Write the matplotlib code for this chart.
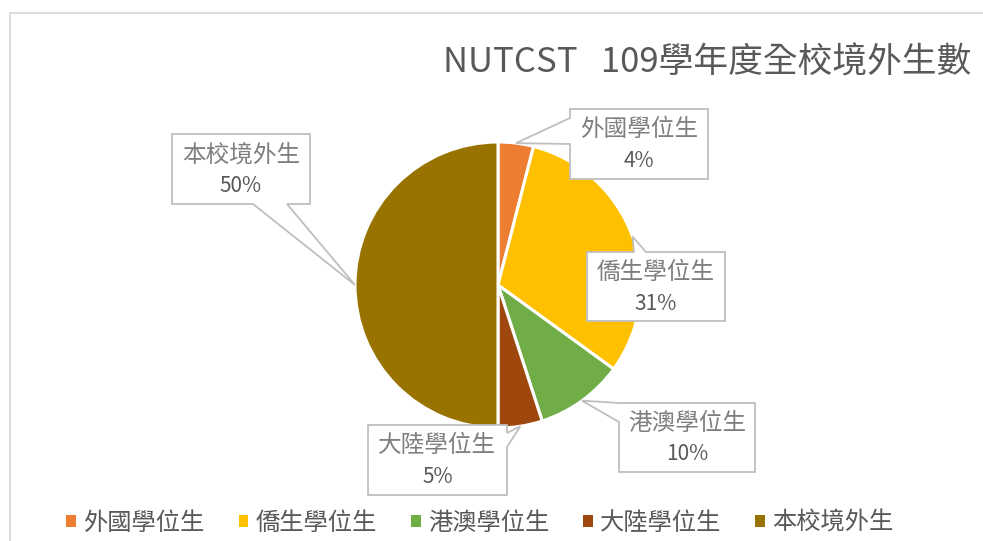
import numpy as np
import matplotlib.pyplot as plt
from matplotlib.patches import Polygon, Rectangle

plt.rcParams['font.family'] = ['Noto Sans CJK TC', 'DejaVu Sans']

# data
categories = ['外國學位生', '僑生學位生', '港澳學位生', '大陸學位生', '本校境外生']
shares = [4, 31, 10, 5, 50]
colors = ['#ED7D31', '#FFC000', '#70AD47', '#9E480E', '#997300']
title = 'NUTCST   109學年度全校境外生數'

W, H = 983, 541
fig = plt.figure(figsize=(W / 100, H / 100), dpi=100)
ax = fig.add_axes([0, 0, 1, 1])

# pie (pixel units, y measured from top -> converted)
cx, cy, R = 498, 285, 143
wedges, _ = ax.pie(shares, colors=colors, startangle=90, counterclock=False,
                   center=(cx, H - cy), radius=R,
                   wedgeprops=dict(edgecolor='white', linewidth=2.2))
ax.set_xlim(0, W)
ax.set_ylim(0, H)
ax.set_aspect('auto')
ax.axis('off')

# callout boxes: (x0, y0, x1, y1) from top-left, side of pointer, pointer base span
callouts = [
    ((570, 109, 708, 179), 'left', (118, 144)),
    ((587, 252, 725, 321), 'top', (634, 646)),
    ((619, 403, 755, 472), 'left', (403, 422)),
    ((368, 425, 507, 495), 'right', (433, 447)),
    ((172, 134, 310, 204), 'bottom', (253, 287)),
]

for w, name, pct, (box, side, base) in zip(wedges, categories, shares, callouts):
    th = np.deg2rad((w.theta1 + w.theta2) / 2)
    tx = cx + R * np.cos(th)
    ty = cy - R * np.sin(th)
    x0, y0, x1, y1 = box
    b0, b1 = base
    pts = [(x0, y0)]
    if side == 'top':
        pts += [(b0, y0), (tx, ty), (b1, y0)]
    pts += [(x1, y0)]
    if side == 'right':
        pts += [(x1, b0), (tx, ty), (x1, b1)]
    pts += [(x1, y1)]
    if side == 'bottom':
        pts += [(b1, y1), (tx, ty), (b0, y1)]
    pts += [(x0, y1)]
    if side == 'left':
        pts += [(x0, b1), (tx, ty), (x0, b0)]
    pts = [(px, H - py) for px, py in pts]
    ax.add_patch(Polygon(pts, closed=True, facecolor='white', edgecolor='#BFBFBF',
                         linewidth=1.3, zorder=5))
    mx = (x0 + x1) / 2
    my = (y0 + y1) / 2
    ax.text(mx, H - (my - 14), name, fontsize=17, color='#7F7F7F',
            ha='center', va='center', zorder=6)
    ax.text(mx, H - (my + 17), f'{pct}%', fontsize=15, color='#595959',
            ha='center', va='center', zorder=6)

# title
ax.text(443, H - 63, title, fontsize=25, color='#595959', ha='left', va='center')

# chart frame (partly cropped)
ax.plot([10, 10, W + 5], [-5, H - 13, H - 13], color='#D9D9D9', lw=1.3, clip_on=False)

# legend
handles = [Rectangle((0, 0), 1, 1, facecolor=c, edgecolor='none') for c in colors]
fig.legend(handles, categories, loc='center', bbox_to_anchor=(480 / W, 1 - 523 / H),
           ncol=5, frameon=False, fontsize=17.5, handlelength=0.4, handleheight=0.4,
           handletextpad=0.3, columnspacing=1.4, labelcolor='#595959')

plt.savefig('out.png', dpi=100)
